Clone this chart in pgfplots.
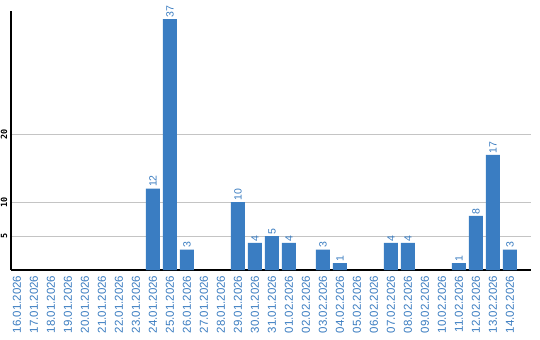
\documentclass[border=0pt]{standalone}
\usepackage{pgfplots}
\pgfplotsset{compat=1.18}
\usepackage{fontspec}
\setmainfont{Liberation Sans}
\newfontfamily\monofont{DejaVu Sans Mono}
\definecolor{barblue}{HTML}{3A7DC2}
\definecolor{txtblue}{HTML}{3A7CC0}
\definecolor{gridgray}{HTML}{C4C4C4}
\begin{document}
\begin{tikzpicture}
\path[use as bounding box] (-11bp,-70bp) rectangle (529bp,270bp);
\begin{axis}[
  at={(0,0)}, anchor=south west,
  scale only axis,
  width=520bp, height=259.3bp,
  xmin=-0.353, xmax=30.24,
  ymin=0, ymax=38.25,
  axis x line*=bottom, axis y line*=left,
  axis line style={black, line width=1.4bp, -},
  ytick={5,10,20},
  ymajorgrids,
  grid style={gridgray, line width=1bp},
  major tick length=0pt,
  /pgf/number format/assume math mode=true,
  yticklabel style={rotate=90, anchor=south, inner sep=0pt, inner ysep=3.5bp, font=\monofont\bfseries\fontsize{8.5bp}{9bp}\selectfont, text=black},
  xtick={0,...,29},
  xticklabels={16.01.2026,17.01.2026,18.01.2026,19.01.2026,20.01.2026,21.01.2026,22.01.2026,23.01.2026,24.01.2026,25.01.2026,26.01.2026,27.01.2026,28.01.2026,29.01.2026,30.01.2026,31.01.2026,01.02.2026,02.02.2026,03.02.2026,04.02.2026,05.02.2026,06.02.2026,07.02.2026,08.02.2026,09.02.2026,10.02.2026,11.02.2026,12.02.2026,13.02.2026,14.02.2026},
  xticklabel style={rotate=90, anchor=east, inner ysep=0pt, inner xsep=5.5bp, font=\fontsize{11.5bp}{12bp}\selectfont, text=txtblue},
  ybar, bar width=14bp, bar shift=0pt,
  nodes near coords,
  every node near coord/.append style={rotate=90, anchor=west, inner sep=1.5bp, font=\fontsize{10.5bp}{11bp}\selectfont, text=txtblue},
]
\addplot[fill=barblue, draw=none] coordinates {
(8,12) (9,37) (10,3) (13,10) (14,4) (15,5) (16,4) (18,3) (19,1)
(22,4) (23,4) (26,1) (27,8) (28,17) (29,3)
};
\end{axis}
\end{tikzpicture}
\end{document}
